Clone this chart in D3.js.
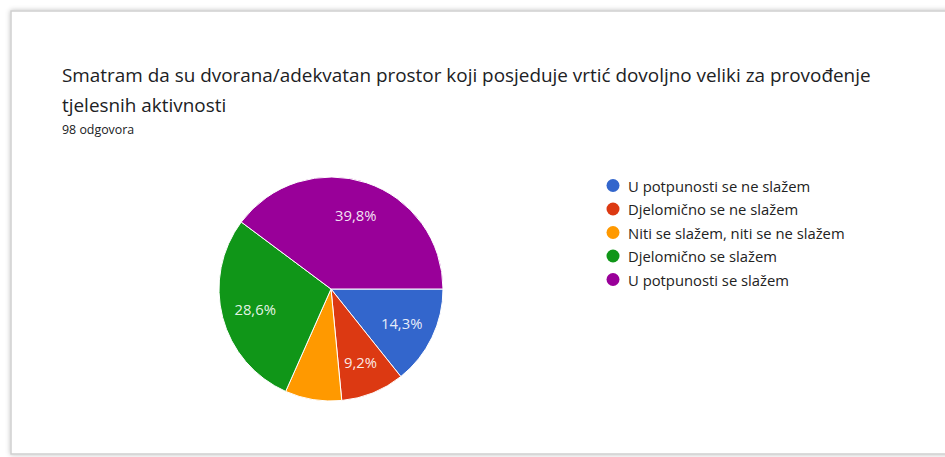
<!DOCTYPE html>
<html>
<head>
<meta charset="utf-8">
<script src="https://cdn.jsdelivr.net/npm/d3@7"></script>
<style>
  html, body { margin: 0; padding: 0; background: #fff; }
  svg { display: block; }
</style>
</head>
<body>
<svg id="chart" width="945" height="457"></svg>
<script>
const categories = [
  "U potpunosti se ne slažem",
  "Djelomično se ne slažem",
  "Niti se slažem, niti se ne slažem",
  "Djelomično se slažem",
  "U potpunosti se slažem"
];
const counts = [14, 9, 8, 28, 39];
const colors = ["#3366cc", "#dc3912", "#ff9900", "#109618", "#990099"];
const titleLines = [
  "Smatram da su dvorana/adekvatan prostor koji posjeduje vrtić dovoljno veliki za provođenje",
  "tjelesnih aktivnosti"
];
const subtitle = "98 odgovora";

const svg = d3.select("#chart");
const W = 945, H = 457;
const FONT = "'Open Sans', Roboto, sans-serif";

// frame with soft shadow
const defs = svg.append("defs");
const f = defs.append("filter").attr("id", "sh").attr("x", "-5%").attr("y", "-5%").attr("width", "110%").attr("height", "110%");
f.append("feGaussianBlur").attr("in", "SourceAlpha").attr("stdDeviation", 2.5).attr("result", "b");
f.append("feFlood").attr("flood-color", "#000").attr("flood-opacity", 0.25);
f.append("feComposite").attr("in2", "b").attr("operator", "in").attr("result", "s");
const fm = f.append("feMerge");
fm.append("feMergeNode").attr("in", "s");
fm.append("feMergeNode").attr("in", "SourceGraphic");

svg.append("rect")
  .attr("x", 11).attr("y", 11).attr("width", W + 20).attr("height", 443)
  .attr("fill", "#fff").attr("stroke", "#cfcfcf").attr("stroke-width", 1.5)
  .attr("filter", "url(#sh)");

// title
const tg = svg.append("g").attr("font-family", FONT);
tg.selectAll("text.t").data(titleLines).join("text")
  .attr("class", "t")
  .attr("x", 62).attr("y", (d, i) => 82 + i * 30)
  .attr("font-size", 18.9).attr("fill", "#202124")
  .text(d => d);
tg.append("text").attr("x", 62).attr("y", 134)
  .attr("font-size", 12.4).attr("fill", "#202124").text(subtitle);

// pie
const total = d3.sum(counts);
const cx = 331, cy = 289, r = 112;
const pie = d3.pie().sort(null).startAngle(Math.PI / 2).endAngle(Math.PI / 2 + 2 * Math.PI);
const arcs = pie(counts);
const arc = d3.arc().innerRadius(0).outerRadius(r);
const labelArc = d3.arc().innerRadius(r * 0.7).outerRadius(r * 0.7);
const pg = svg.append("g").attr("transform", `translate(${cx},${cy})`);
pg.selectAll("path").data(arcs).join("path")
  .attr("d", arc)
  .attr("fill", (d, i) => colors[i])
  .attr("stroke", "#fff").attr("stroke-width", 1);

const fmt = v => (v * 100).toFixed(1).replace(".", ",") + "%";
pg.selectAll("text").data(arcs.filter(d => d.data / total > 0.085)).join("text")
  .attr("transform", d => `translate(${labelArc.centroid(d)})`)
  .attr("text-anchor", "middle").attr("dominant-baseline", "central")
  .attr("font-family", FONT)
  .attr("font-size", 14.8).attr("fill", "#fff").attr("fill-opacity", 0.9)
  .text(d => fmt(d.data / total));

// legend
const lg = svg.append("g").attr("font-family", FONT);
const rows = lg.selectAll("g").data(categories).join("g")
  .attr("transform", (d, i) => `translate(613,${185.5 + i * 23.5})`);
rows.append("circle").attr("r", 6.5).attr("fill", (d, i) => colors[i]);
rows.append("text").attr("x", 15).attr("dominant-baseline", "central")
  .attr("font-size", 14.8).attr("fill", "#222").text(d => d);
</script>
</body>
</html>
